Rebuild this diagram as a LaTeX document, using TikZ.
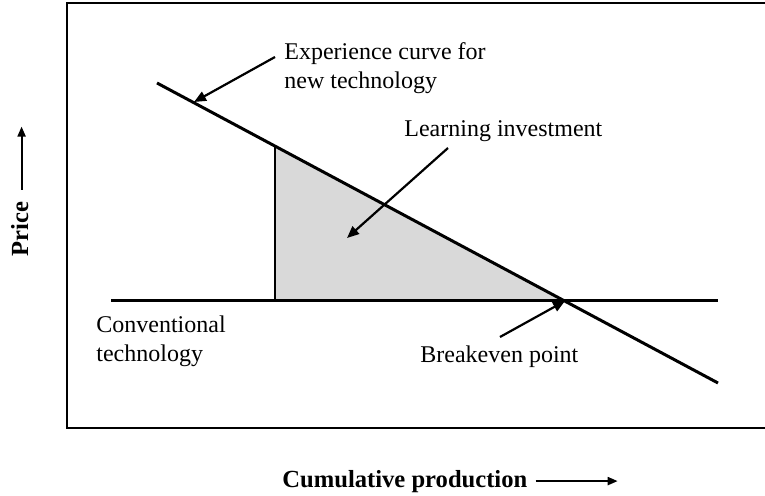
\documentclass[tikz,border=0pt]{standalone}
\usepackage{fontspec}
\setmainfont{Liberation Serif}
\usepackage{xcolor}
\definecolor{areaGray}{HTML}{D9D9D9}
\usetikzlibrary{arrows.meta}
\tikzset{
    frame/.style={draw=black, line width=0.9pt},
    curve/.style={line width=1.5pt},
    riser/.style={line width=0.9pt},
    pointer/.style={-{Triangle[length=6pt,width=5pt]}, line width=1.1pt},
    axisarrow/.style={-{Triangle[length=5pt,width=4pt]}, line width=1pt},
    note/.style={font=\fontsize{12}{14.5}\selectfont, inner sep=0pt, align=left},
    axislabel/.style={font=\fontsize{12.3}{14.5}\selectfont\bfseries, inner sep=0pt}
}

\begin{document}
\begin{tikzpicture}[x=0.5pt, y=-0.5pt]
    \clip (0,0) rectangle (765,496);
    % Plot frame, open to the right
    \draw[frame] (800,3) -- (67,3) -- (67,428) -- (800,428);

    % Points on the two price lines
    \coordinate (newStart) at (157,83);
    \coordinate (newEnd) at (718,383);
    \coordinate (convStart) at (111,301);
    \coordinate (convEnd) at (718,301);
    \coordinate (riserTop) at (275,146);
    \coordinate (riserFoot) at (275,301);
    \coordinate (breakeven) at (565,301);

    % Learning investment area
    \fill[areaGray] (riserTop) -- (riserFoot) -- (breakeven) -- cycle;
    \draw[riser] (riserFoot) -- (riserTop);

    % Price lines
    \draw[curve] (convStart) -- (convEnd);
    \draw[curve] (newStart) -- (newEnd);

    % Labels
    \node[note, anchor=north west] (expLabel) at (284,42) {Experience curve for\\new technology};
    \node[note, anchor=base west] (learnLabel) at (404,137) {Learning investment};
    \node[note, anchor=north west] (convLabel) at (96,315) {Conventional\\technology};
    \node[note, anchor=base west] (breakLabel) at (420,363) {Breakeven point};

    % Pointers
    \coordinate (expTail) at (275,57);
    \coordinate (expTip) at (194,102);
    \coordinate (learnTail) at (448,148);
    \coordinate (learnTip) at (347,238);
    \coordinate (breakTail) at (500,337);
    \draw[pointer] (expTail) -- (expTip);
    \draw[pointer] (learnTail) -- (learnTip);
    \draw[pointer] (breakTail) -- (breakeven);

    % Axis titles
    \node[axislabel, rotate=90, anchor=base west] (priceLabel) at (28,257) {Price};
    \node[axislabel, anchor=base west] (prodLabel) at (282,487) {Cumulative production};
    \draw[axisarrow] ([shift={(1pt,6pt)}]priceLabel.east) -- ++(0,-63);
    \draw[axisarrow] ([xshift=4pt]prodLabel.east) -- ++(82,0);
\end{tikzpicture}
\end{document}
